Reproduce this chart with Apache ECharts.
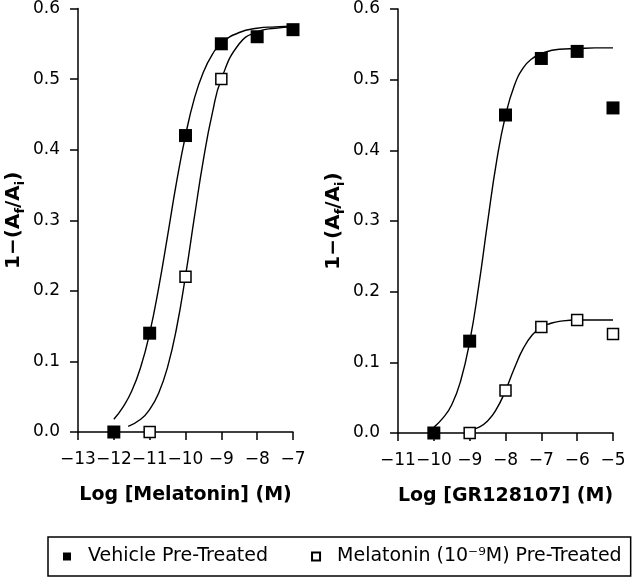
<!DOCTYPE html>
<html>
<head>
<meta charset="utf-8">
<script src="https://cdn.jsdelivr.net/npm/echarts@6/dist/echarts.min.js"></script>
<style>html,body{margin:0;padding:0;background:#fff}#c{width:640px;height:585px}</style>
</head>
<body>
<div id="c"></div>
<script>
// ---- Data ----
const leftVehX = [-12, -11, -10, -9, -8, -7];
const leftVehY = [0.0, 0.14, 0.42, 0.55, 0.56, 0.57];
const leftMelX = [-11, -10, -9];
const leftMelY = [0.0, 0.22, 0.50];

const rightVehX = [-10, -9, -8, -7, -6, -5];
const rightVehY = [0.0, 0.13, 0.45, 0.53, 0.54, 0.46];
const rightMelX = [-9, -8, -7, -6, -5];
const rightMelY = [0.0, 0.06, 0.15, 0.16, 0.14];

// fitted curves as drawn
const leftVehCurveX = [-12, -11.75, -11.5, -11.25, -11, -10.75, -10.5, -10.25, -10, -9.75, -9.5, -9.25, -9, -8.5, -8, -7.5, -7];
const leftVehCurveY = [0.018, 0.035, 0.058, 0.092, 0.14, 0.204, 0.278, 0.354, 0.42, 0.473, 0.51, 0.535, 0.551, 0.566, 0.572, 0.574, 0.575];
const leftMelCurveX = [-11.6, -11.25, -11, -10.75, -10.5, -10.25, -10, -9.75, -9.5, -9.25, -9, -8.5, -8, -7.5, -7];
const leftMelCurveY = [0.008, 0.018, 0.032, 0.055, 0.092, 0.147, 0.221, 0.305, 0.386, 0.452, 0.50, 0.55, 0.567, 0.572, 0.574];
const rightVehCurveX = [-10, -9.75, -9.5, -9.25, -9, -8.75, -8.5, -8.25, -8, -7.75, -7.5, -7.25, -7, -6.5, -6, -5.5, -5];
const rightVehCurveY = [0.008, 0.021, 0.040, 0.074, 0.129, 0.207, 0.298, 0.384, 0.449, 0.492, 0.517, 0.530, 0.537, 0.543, 0.544, 0.545, 0.545];
const rightMelCurveX = [-9, -8.75, -8.5, -8.25, -8, -7.75, -7.5, -7.25, -7, -6.75, -6.5, -6, -5.5, -5];
const rightMelCurveY = [0.004, 0.008, 0.017, 0.034, 0.060, 0.092, 0.120, 0.139, 0.150, 0.155, 0.158, 0.160, 0.160, 0.160];

const leftXTicks = {min: -13, max: -7, interval: 1};
const rightXTicks = {min: -11, max: -5, interval: 1};
const yTicks = {min: 0, max: 0.6, interval: 0.1};

const vehName = 'Vehicle Pre-Treated';
const melName = 'Melatonin (10\u207B\u2079M) Pre-Treated';
const xNameLeft = 'Log [Melatonin] (M)';
const xNameRight = 'Log [GR128107] (M)';
const yName = '1\u2212(A{s|f}/A{s|i})';

// ---- Chart ----
const FONT = 'DejaVu Sans';
const zip = (xs, ys) => xs.map((x, i) => [x, ys[i]]);

function xAxis(idx, t, name) {
  return {
    type: 'value', gridIndex: idx, min: t.min, max: t.max, interval: t.interval,
    name: name, nameLocation: 'middle', nameGap: 54,
    nameTextStyle: {fontFamily: FONT, fontSize: 19, fontWeight: 'bold', color: '#000'},
    axisLine: {show: true, onZero: false, lineStyle: {color: '#000', width: 1.5}},
    axisTick: {show: true, inside: false, length: 8, lineStyle: {color: '#000', width: 1.5}},
    axisLabel: {fontFamily: FONT, fontSize: 17, color: '#000', margin: 19,
      showMinLabel: true, showMaxLabel: true, hideOverlap: false,
      formatter: v => v < 0 ? '\u2212' + Math.abs(v) : String(v)},
    splitLine: {show: false}
  };
}
function yAxis(idx) {
  return {
    type: 'value', gridIndex: idx, min: yTicks.min, max: yTicks.max, interval: yTicks.interval,
    name: yName, nameLocation: 'middle', nameGap: 51,
    nameTextStyle: {fontFamily: FONT, fontSize: 20, fontWeight: 'bold', color: '#000', lineHeight: 26,
      rich: {s: {fontFamily: FONT, fontSize: 13, fontWeight: 'bold', color: '#000', lineHeight: 12, verticalAlign: 'bottom'}}},
    axisLine: {show: true, lineStyle: {color: '#000', width: 1.5}},
    axisTick: {show: true, inside: false, length: 8, lineStyle: {color: '#000', width: 1.5}},
    axisLabel: {fontFamily: FONT, fontSize: 17, color: '#000', margin: 18,
      showMinLabel: true, showMaxLabel: true,
      formatter: v => v.toFixed(1)},
    splitLine: {show: false}
  };
}
function curve(idx, xs, ys) {
  return {type: 'line', xAxisIndex: idx, yAxisIndex: idx, data: zip(xs, ys), smooth: true,
    showSymbol: false, symbol: 'none', lineStyle: {color: '#000', width: 1.4}, z: 2, silent: true};
}
function filled(idx, xs, ys) {
  return {type: 'scatter', name: vehName, xAxisIndex: idx, yAxisIndex: idx, data: zip(xs, ys),
    symbol: 'rect', symbolSize: 13, itemStyle: {color: '#000', opacity: 1}, z: 4};
}
function open(idx, xs, ys) {
  return {type: 'scatter', name: melName, xAxisIndex: idx, yAxisIndex: idx, data: zip(xs, ys),
    symbol: 'rect', symbolSize: 11, itemStyle: {color: '#fff', borderColor: '#000', borderWidth: 1.5, opacity: 1}, z: 3};
}

const chart = echarts.init(document.getElementById('c'), null, {renderer: 'canvas'});
chart.setOption({
  backgroundColor: '#fff',
  animation: false,
  grid: [
    {left: 77, top: 8, width: 216, height: 424},
    {left: 398, top: 9, width: 215, height: 424}
  ],
  xAxis: [xAxis(0, leftXTicks, xNameLeft), xAxis(1, rightXTicks, xNameRight)],
  yAxis: [yAxis(0), yAxis(1)],
  legend: {
    left: 48, top: 537,
    data: [{name: vehName, icon: 'rect'}, {name: melName, icon: 'rect'}],
    itemWidth: 8, itemHeight: 8, itemGap: 43,
    padding: [10, 9, 10, 15],
    borderColor: '#000', borderWidth: 1.5, borderRadius: 0,
    textStyle: {fontFamily: FONT, fontSize: 19, color: '#000', padding: [0, 0, 0, 12]},
    selectedMode: false
  },
  series: [
    curve(0, leftVehCurveX, leftVehCurveY),
    curve(0, leftMelCurveX, leftMelCurveY),
    curve(1, rightVehCurveX, rightVehCurveY),
    curve(1, rightMelCurveX, rightMelCurveY),
    open(0, leftMelX, leftMelY),
    filled(0, leftVehX, leftVehY),
    open(1, rightMelX, rightMelY),
    filled(1, rightVehX, rightVehY)
  ]
});
</script>
</body>
</html>
